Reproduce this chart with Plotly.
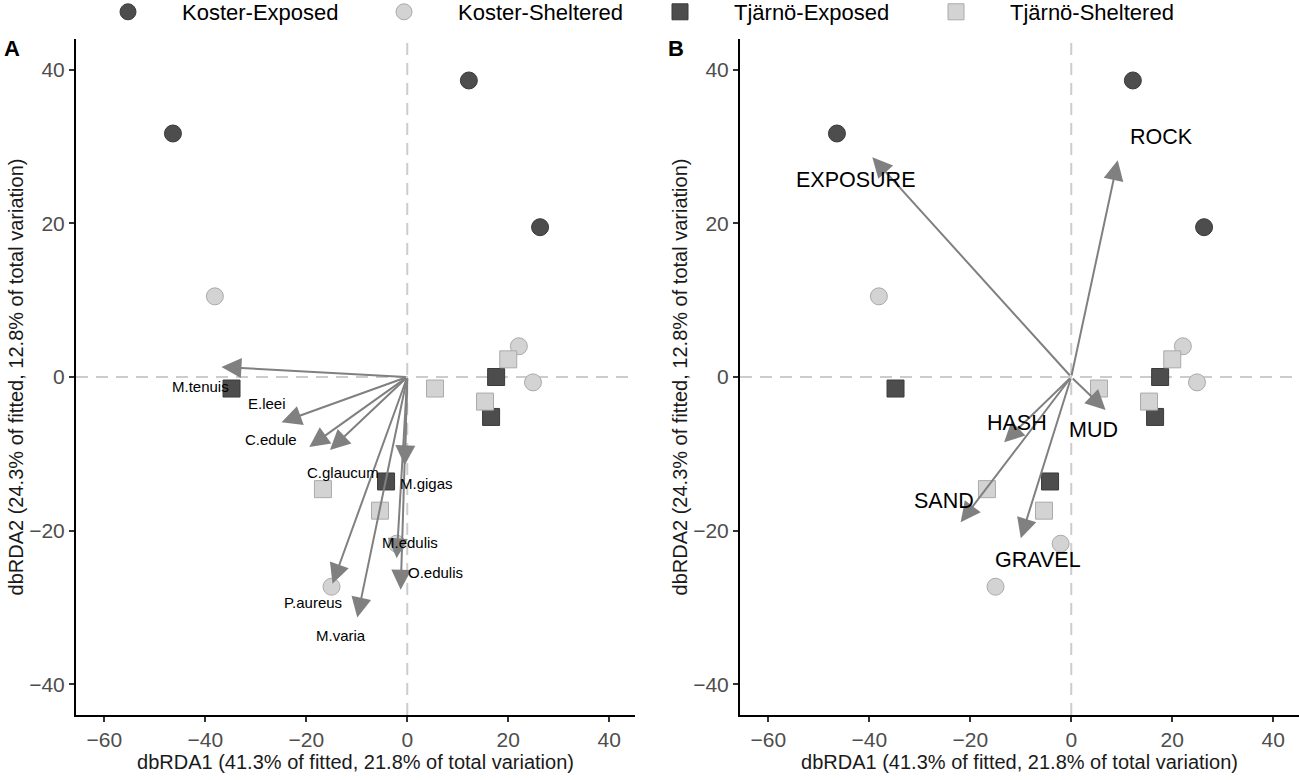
import plotly.graph_objects as go

# ---- sample scores (dbRDA1, dbRDA2) ----
groups = ["Koster-Exposed", "Koster-Sheltered", "Tjärnö-Exposed", "Tjärnö-Sheltered"]
ke_x = [-46.4, 12.2, 26.3]
ke_y = [31.7, 38.6, 19.5]
ks_x = [-38.1, 22.1, 24.9, -15.0, -2.1]
ks_y = [10.5, 4.0, -0.7, -27.3, -21.7]
te_x = [-34.8, 17.6, 16.6, -4.2]
te_y = [-1.5, 0.0, -5.2, -13.6]
ts_x = [5.5, 20.0, 15.4, -16.7, -5.4]
ts_y = [-1.5, 2.3, -3.2, -14.6, -17.4]

# ---- panel A: species vectors ----
sp_names = ["M.tenuis", "E.leei", "C.edule", "C.glaucum", "M.gigas", "M.edulis", "O.edulis", "P.aureus", "M.varia"]
sp_x = [-36.8, -24.9, -19.4, -15.3, -0.5, -2.1, -1.3, -14.8, -9.9]
sp_y = [1.3, -5.9, -9.1, -9.5, -11.5, -23.6, -27.7, -26.9, -31.3]
sp_lab_x = [-41.0, -27.8, -26.9, -12.7, 3.8, 0.6, 5.5, -18.6, -13.2]
sp_lab_y = [-1.3, -3.5, -8.2, -12.4, -13.9, -21.5, -25.4, -29.4, -33.6]

# ---- panel B: environmental vectors ----
env_names = ["EXPOSURE", "ROCK", "HASH", "MUD", "SAND", "GRAVEL"]
env_x = [-39.4, 9.2, -13.3, 6.8, -21.9, -10.0]
env_y = [28.6, 28.2, -8.5, -4.3, -18.9, -21.0]
env_lab_x = [-42.7, 17.9, -10.7, 4.5, -25.2, -6.6]
env_lab_y = [25.6, 31.2, -6.0, -6.9, -16.1, -23.8]

x_ticks = [-60, -40, -20, 0, 20, 40]
y_ticks = [-40, -20, 0, 20, 40]
x_title = "dbRDA1 (41.3% of fitted, 21.8% of total variation)"
y_title = "dbRDA2 (24.3% of fitted, 12.8% of total variation)"

FONT = "Liberation Sans, Arial, sans-serif"
DARK = "#4d4d4d"
LIGHT = "#d3d3d3"
ARROW = "#808080"

W, H = 1299, 780


def px(p):
    return p / W


def py(p):
    return 1 - p / H


series = [
    (groups[0], ke_x, ke_y, "circle", DARK, "#3a3a3a"),
    (groups[1], ks_x, ks_y, "circle", LIGHT, "#aaaaaa"),
    (groups[2], te_x, te_y, "square", DARK, "#3a3a3a"),
    (groups[3], ts_x, ts_y, "square", LIGHT, "#aaaaaa"),
]

fig = go.Figure()
for panel, (xa, ya) in enumerate([("x", "y"), ("x2", "y2")]):
    for name, xs, ys, sym, fill, edge in series:
        fig.add_trace(go.Scatter(
            x=xs, y=ys, mode="markers", name=name, xaxis=xa, yaxis=ya,
            legendgroup=name, showlegend=(panel == 0),
            marker=dict(symbol=sym, size=17, color=fill, line=dict(color=edge, width=1)),
        ))

annotations = []
for n, tx, ty in zip(sp_names, sp_x, sp_y):
    annotations.append(dict(x=tx, y=ty, ax=0, ay=0, xref="x", yref="y", axref="x", ayref="y",
                            text="", showarrow=True, arrowhead=2, arrowsize=2, arrowwidth=2,
                            arrowcolor=ARROW, standoff=0, startstandoff=0))
for n, lx, ly in zip(sp_names, sp_lab_x, sp_lab_y):
    annotations.append(dict(x=lx, y=ly, xref="x", yref="y", text=n, showarrow=False,
                            xanchor="center", yanchor="middle",
                            font=dict(family=FONT, size=15, color="#000000")))
for n, tx, ty in zip(env_names, env_x, env_y):
    annotations.append(dict(x=tx, y=ty, ax=0, ay=0, xref="x2", yref="y2", axref="x2", ayref="y2",
                            text="", showarrow=True, arrowhead=2, arrowsize=2, arrowwidth=2,
                            arrowcolor=ARROW, standoff=0, startstandoff=0))
for n, lx, ly in zip(env_names, env_lab_x, env_lab_y):
    annotations.append(dict(x=lx, y=ly, xref="x2", yref="y2", text=n, showarrow=False,
                            xanchor="center", yanchor="middle",
                            font=dict(family=FONT, size=21.5, color="#000000")))
annotations.append(dict(x=px(12), y=py(48), xref="paper", yref="paper", text="<b>A</b>",
                        xanchor="center", yanchor="middle", showarrow=False,
                        font=dict(family=FONT, size=22, color="#000000")))
annotations.append(dict(x=px(676), y=py(48), xref="paper", yref="paper", text="<b>B</b>",
                        xanchor="center", yanchor="middle", showarrow=False,
                        font=dict(family=FONT, size=22, color="#000000")))

shapes = []
for xr, yr in [("x", "y"), ("x2", "y2")]:
    shapes.append(dict(type="line", xref=xr, yref=yr + " domain", x0=0, x1=0, y0=0, y1=1,
                       line=dict(color="#cccccc", width=2, dash="12px,8px"), layer="below"))
    shapes.append(dict(type="line", xref=xr + " domain", yref=yr, x0=0, x1=1, y0=0, y1=0,
                       line=dict(color="#cccccc", width=2, dash="12px,8px"), layer="below"))

xaxis_common = dict(range=[-65.6, 45.1], tickvals=x_ticks, showgrid=False, zeroline=False,
                    showline=True, linecolor="#000000", linewidth=2, ticks="outside", ticklen=5,
                    tickwidth=1.5, tickcolor="#333333", mirror=False,
                    tickfont=dict(family=FONT, size=21, color="#4d4d4d"),
                    title=dict(text=x_title, font=dict(family=FONT, size=20, color="#1a1a1a"), standoff=4))
yaxis_common = dict(range=[-44, 44], tickvals=y_ticks, showgrid=False, zeroline=False,
                    showline=True, linecolor="#000000", linewidth=2, ticks="outside", ticklen=5,
                    tickwidth=1.5, tickcolor="#333333", mirror=False,
                    tickfont=dict(family=FONT, size=21, color="#4d4d4d"),
                    title=dict(text=y_title, font=dict(family=FONT, size=20, color="#1a1a1a"), standoff=0))

fig.update_layout(
    width=W, height=H,
    margin=dict(l=0, r=0, t=0, b=0, autoexpand=False),
    paper_bgcolor="white", plot_bgcolor="white",
    xaxis=dict(domain=[px(76), px(635)], anchor="y", **xaxis_common),
    yaxis=dict(domain=[py(715), py(39)], anchor="x", **yaxis_common),
    xaxis2=dict(domain=[px(740), 1.0], anchor="y2", **xaxis_common),
    yaxis2=dict(domain=[py(715), py(39)], anchor="x2", **yaxis_common),
    legend=dict(orientation="h", xref="container", yref="container",
                x=px(74), xanchor="left", y=py(12), yanchor="middle",
                font=dict(family=FONT, size=22, color="#000000"), itemwidth=98,
                entrywidth=163, entrywidthmode="pixels", bgcolor="rgba(0,0,0,0)"),
    annotations=annotations,
    shapes=shapes,
)

fig.write_html("out.html", config={"displayModeBar": False},
               post_script="document.body.style.margin='0px';")
